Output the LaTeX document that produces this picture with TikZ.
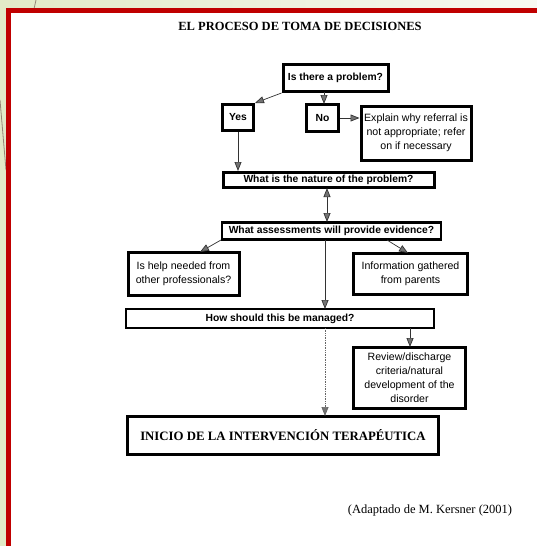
\documentclass[tikz,border=0pt]{standalone}
\usepackage{fontspec}
\setmainfont{Liberation Serif}
\setsansfont{Liberation Sans}
\usetikzlibrary{arrows.meta,calc}
\definecolor{bgleft}{HTML}{E2EAC7}
\definecolor{bgright}{HTML}{F8F9F2}
\definecolor{frame}{HTML}{C00000}
\tikzset{
  box/.style={draw=black, line width=3pt, rectangle, inner sep=0pt, align=center,
    font=\sffamily\bfseries\fontsize{10.3}{12}\selectfont},
  plainbox/.style={box, font=\sffamily\fontsize{10.6}{14}\selectfont},
  conn/.style={draw=black!80, line width=0.7pt,
    -{Triangle[length=9pt,width=7pt,fill=black!55]}},
  dconn/.style={conn, {Triangle[length=9pt,width=7pt,fill=black!55]}-{Triangle[length=9pt,width=7pt,fill=black!55]}},
  dotconn/.style={conn, draw=black!60, densely dotted}
}
\begin{document}
\begin{tikzpicture}[x=1pt,y=-1pt]
\useasboundingbox (0,0) rectangle (537,546);
\shade[left color=bgleft, right color=bgright] (0,0) rectangle (537,546);
\draw[brown!40!black!60, line width=0.8pt] (36,0) -- (34,9);
\draw[brown!40!black!60, line width=0.8pt] (0,100) -- (6,170);
\fill[white] (8.5,10.5) rectangle (560,560);
\draw[frame, line width=4.5pt] (8.5,560) -- (8.5,10.5) -- (560,10.5);

\node[font=\rmfamily\bfseries\fontsize{12.5}{14}\selectfont] (title) at (300,26) {EL PROCESO DE TOMA DE DECISIONES};

\node[box, minimum width=105pt, minimum height=27pt] (prob) at (335.5,78) {Is there a problem?};
\node[box, minimum width=31pt, minimum height=26pt] (yes) at (238,117.5) {Yes};
\node[box, minimum width=32pt, minimum height=27pt] (no) at (322.5,118) {No};
\node[plainbox, minimum width=110pt, minimum height=54pt] (expl) at (416,133)
  {Explain why referral is\\not appropriate; refer\\on if necessary};
\node[box, minimum width=211pt, minimum height=15pt] (nature) at (328.5,180) {What is the nature of the problem?};
\node[box, line width=2.6pt, minimum width=219pt, minimum height=17pt] (assess) at (331.5,231) {What assessments will provide evidence?};
\node[plainbox, minimum width=111pt, minimum height=43pt] (help) at (183.5,273.5)
  {Is help needed from\\other professionals?};
\node[plainbox, minimum width=114pt, minimum height=41pt] (info) at (410.5,274)
  {Information gathered\\from parents};
\node[box, line width=2.6pt, minimum width=308pt, minimum height=19pt] (manage) at (280,318.5) {How should this be managed?};
\node[plainbox, line width=2.6pt, minimum width=112pt, minimum height=61pt] (review) at (409.5,378)
  {Review/discharge\\criteria/natural\\development of the\\disorder};
\node[box, minimum width=311pt, minimum height=38pt, font=\rmfamily\bfseries\fontsize{12.8}{14}\selectfont] (inicio) at (283,435)
  {INICIO DE LA INTERVENCIÓN TERAPÉUTICA};

\node[font=\rmfamily\fontsize{12.5}{14}\selectfont] (src) at (430,510) {(Adaptado de M. Kersner (2001)};

% helper coordinates
\coordinate (pnA) at (324,92);
\coordinate (pnB) at (324,104);
\coordinate (naA) at (327,188);
\coordinate (naB) at (327,222);
\coordinate (amA) at (325,240);
\coordinate (amB) at (325,309);
\coordinate (miA) at (325,328);
\coordinate (miB) at (325,416);
\coordinate (mrA) at (410,328);
\coordinate (mrB) at (410,347);
\coordinate (ahA) at (221,240);
\coordinate (ahB) at (200,252);
\coordinate (aiA) at (387,240);
\coordinate (aiB) at (408,253);

\draw[conn] (prob.south west) -- (yes.north east);
\draw[conn] (pnA) -- (pnB);
\draw[conn] (no.east) -- (expl.west |- no.east);
\draw[conn] (yes.south) -- (yes.south |- nature.north);
\draw[dconn] (naA) -- (naB);
\draw[conn] (ahA) -- (ahB);
\draw[conn] (aiA) -- (aiB);
\draw[conn] (amA) -- (amB);
\draw[conn] (mrA) -- (mrB);
\draw[dotconn] (miA) -- (miB);
\end{tikzpicture}
\end{document}
